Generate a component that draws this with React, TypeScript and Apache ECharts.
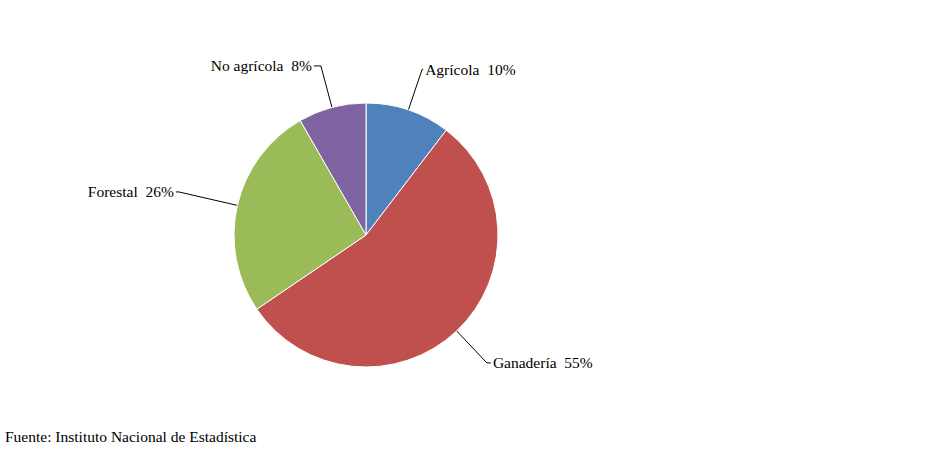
import React, { useEffect, useRef } from "react";
import * as echarts from "echarts";

const categories = ["Agrícola", "Ganadería", "Forestal", "No agrícola"];
const values = [10.4, 55.1, 26.2, 8.3];
const colors = ["#4F81BD", "#C0504D", "#9BBB59", "#8064A2"];
const sourceText = "Fuente: Instituto Nacional de Estadística";
const lineLengths = [43, 44, 60, 43];
const lineLengths2 = [1, 4, 3, 7];

export default function App() {
  const ref = useRef<HTMLDivElement>(null);
  useEffect(() => {
    if (!ref.current) return;
    const chart = echarts.init(ref.current, null, { renderer: "svg" });
    const font = "Liberation Serif";
    chart.setOption({
      animation: false,
      backgroundColor: "#fff",
      textStyle: { fontFamily: font },
      graphic: [
        {
          type: "text",
          left: 5,
          top: 428,
          style: { text: sourceText, fontFamily: font, fontSize: 15.5, fill: "#000" },
        },
      ],
      series: [
        {
          type: "pie",
          center: [366, 235],
          radius: 132,
          startAngle: 90,
          clockwise: true,
          avoidLabelOverlap: false,
          itemStyle: { borderColor: "#fff", borderWidth: 1 },
          label: {
            show: true,
            position: "outside",
            color: "#000",
            fontFamily: font,
            fontSize: 15.5,
            distanceToLabelLine: 2,
            formatter: (p: any) => `${p.name}\u00a0 ${Math.round(p.percent)}%`,
          },
          labelLine: {
            show: true,
            length: 42,
            length2: 6,
            lineStyle: { color: "#000", width: 1 },
          },
          emphasis: { disabled: true },
          data: categories.map((c, i) => ({
            name: c,
            value: values[i],
            itemStyle: { color: colors[i] },
            labelLine: { length: lineLengths[i], length2: lineLengths2[i] },
          })),
        },
      ],
    });
    return () => chart.dispose();
  }, []);
  return (
    <div
      ref={ref}
      style={{ position: "absolute", left: 0, top: 0, width: 939, height: 453 }}
    />
  );
}
